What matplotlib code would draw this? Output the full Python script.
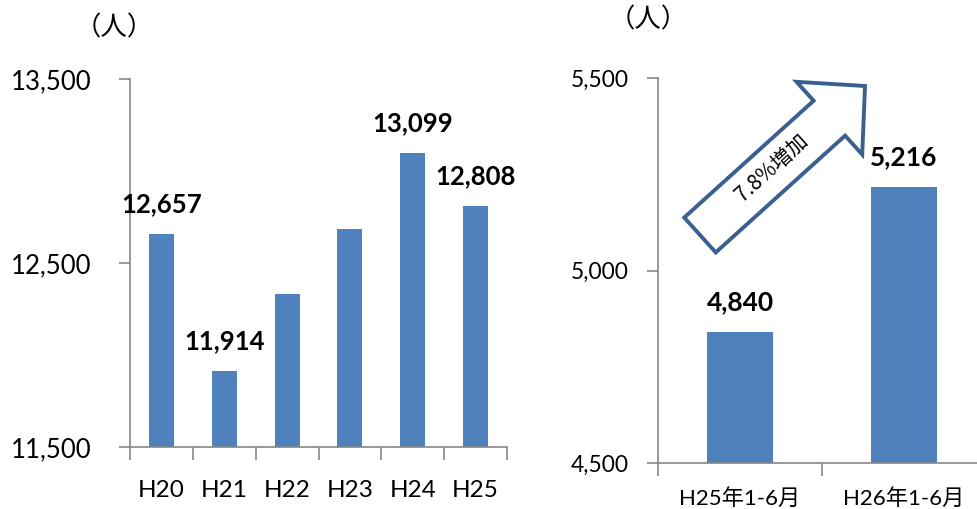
import matplotlib.pyplot as plt
from matplotlib.patches import FancyArrow

# data
years = ['H20', 'H21', 'H22', 'H23', 'H24', 'H25']
year_counts = [12657, 11914, 12332, 12685, 13099, 12808]
year_labels = {0: '12,657', 1: '11,914', 4: '13,099', 5: '12,808'}

halves = ['H25年1-6月', 'H26年1-6月']
half_counts = [4840, 5216]
half_labels = ['4,840', '5,216']

BAR = '#4F81BD'
GRID = '#868686'
FONT = ['Lato', 'Noto Sans CJK JP', 'DejaVu Sans']
CJK = ['Noto Sans CJK JP', 'DejaVu Sans']
plt.rcParams['font.family'] = FONT

W, H = 977, 509
fig = plt.figure(figsize=(W / 100, H / 100), dpi=100)


def style_axes(ax):
    for s in ['top', 'right']:
        ax.spines[s].set_visible(False)
    for s in ['left', 'bottom']:
        ax.spines[s].set_color(GRID)
        ax.spines[s].set_linewidth(1.2)
    ax.tick_params(axis='y', length=8, color=GRID, width=1.2)
    ax.tick_params(axis='x', which='major', length=0)
    ax.tick_params(axis='x', which='minor', length=9, color=GRID, width=1.2)


# left chart
ax1 = fig.add_axes([130 / W, (H - 447) / H, (507 - 130) / W, (447 - 79) / H])
x1 = range(len(years))
ax1.bar(x1, year_counts, width=0.4, color=BAR)
ax1.set_xlim(-0.5, len(years) - 0.5)
ax1.set_ylim(11500, 13500)
ax1.set_yticks([11500, 12500, 13500])
ax1.set_yticklabels(['11,500', '12,500', '13,500'], fontsize=18.5)
ax1.set_xticks(list(x1))
ax1.set_xticklabels(years, fontsize=17.5)
ax1.set_xticks([i - 0.5 for i in range(len(years) + 1)], minor=True)
style_axes(ax1)
ax1.tick_params(axis='y', pad=20)
ax1.tick_params(axis='x', which='major', pad=24)
for i, lab in year_labels.items():
    ax1.annotate(lab, (i, year_counts[i]), xytext=(0, 30), textcoords='offset pixels',
                 ha='center', va='center', fontsize=18.5, fontweight='bold')

# right chart
ax2 = fig.add_axes([658 / W, (H - 463) / H, (986 - 658) / W, (463 - 78) / H])
x2 = range(len(halves))
ax2.bar(x2, half_counts, width=0.4, color=BAR)
ax2.set_xlim(-0.5, len(halves) - 0.5)
ax2.set_ylim(4500, 5500)
ax2.set_yticks([4500, 5000, 5500])
ax2.set_yticklabels(['4,500', '5,000', '5,500'], fontsize=16.5)
ax2.set_xticks(list(x2))
ax2.set_xticklabels(halves, fontsize=16)
ax2.set_xticks([i - 0.5 for i in range(len(halves) + 1)], minor=True)
style_axes(ax2)
ax2.tick_params(axis='y', pad=13)
ax2.tick_params(axis='x', which='major', pad=18)
for i, lab in enumerate(half_labels):
    ax2.annotate(lab, (i, half_counts[i]), xytext=(0, 30), textcoords='offset pixels',
                 ha='center', va='center', fontsize=19, fontweight='bold')

# unit labels
fig.text(114 / W, 1 - 28 / H, '（人）', ha='center', va='center', fontsize=19, family=CJK)
fig.text(648 / W, 1 - 20 / H, '（人）', ha='center', va='center', fontsize=19, family=CJK)

# growth arrow (inch units = 100 px)
arrow = FancyArrow(7.00, (H - 235) / 100, 1.65, -(86 - 235) / 100, width=0.47,
                   head_width=0.98, head_length=0.48, length_includes_head=True,
                   transform=fig.dpi_scale_trans, facecolor='white',
                   edgecolor='#3B5F8E', linewidth=2.8, joinstyle='miter')
fig.add_artist(arrow)
fig.text(772 / W, 1 - 168 / H, '7.8%増加', rotation=42, ha='center', va='center',
         fontsize=15, rotation_mode='anchor', family=CJK)

fig.savefig('out.png', dpi=100)
